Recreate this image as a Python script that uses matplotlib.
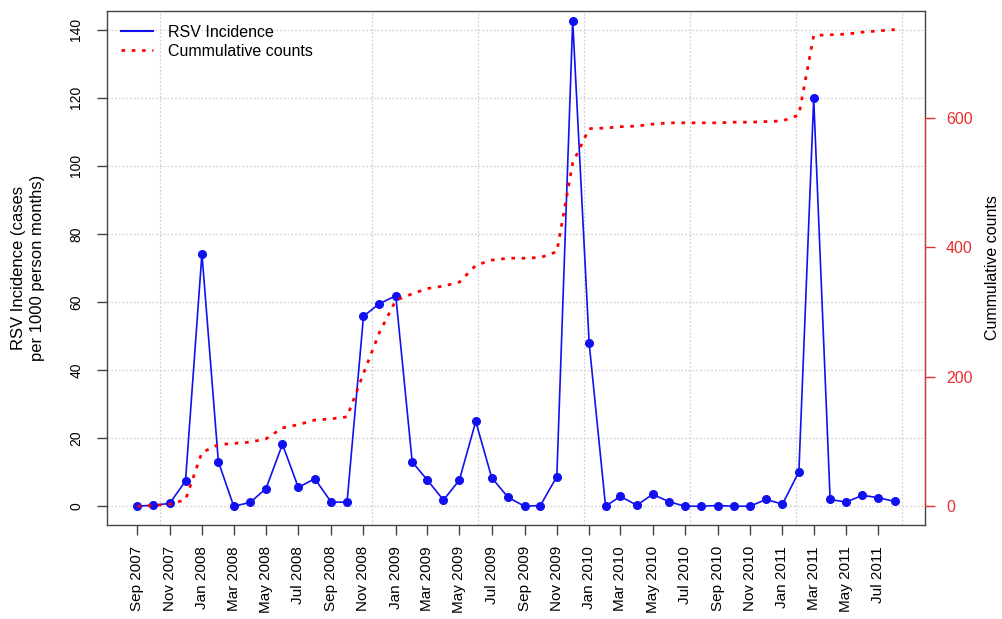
import numpy as np
import pandas as pd
import matplotlib
matplotlib.use('Agg')
import matplotlib.pyplot as plt
import matplotlib.dates as mdates
from matplotlib.lines import Line2D
from matplotlib.ticker import FixedLocator

plt.rcParams['font.family'] = ['Liberation Sans', 'DejaVu Sans']

# Monthly data, Sep 2007 - Aug 2011
months = pd.date_range('2007-09-01', periods=48, freq='MS')
incidence = [0.0, 0.3, 0.8, 7.4, 74.2, 13.1, 0.0, 1.1, 5.2, 18.2, 5.5, 8.1,
             1.2, 1.2, 55.8, 59.5, 61.8, 13.0, 7.8, 1.8, 7.7, 24.9, 8.4, 2.6,
             0.0, 0.2, 8.7, 142.6, 48.0, 0.0, 2.9, 0.3, 3.5, 1.3, 0.0, 0.0,
             0.2, 0.0, 0.0, 2.0, 0.6, 10.1, 119.8, 2.0, 1.2, 3.2, 2.5, 1.4]
cumulative = [0, 1, 3, 10, 83, 95, 97, 99, 104, 121, 126, 133,
              135, 138, 205, 268, 318, 328, 336, 340, 346, 372, 380, 383,
              383, 384, 393, 530, 583, 584, 586, 587, 590, 592, 592, 592,
              592, 593, 593, 594, 595, 604, 727, 728, 729, 732, 734, 736]
left_ticks = [0, 20, 40, 60, 80, 100, 120, 140]
right_ticks = [0, 200, 400, 600]
tick_months = months[::2]

fig = plt.figure(figsize=(10.02, 6.19), dpi=100)
ax = fig.add_axes([0.1068, 0.1514, 0.9232 - 0.1068, 0.983 - 0.1514])
ax2 = ax.twinx()

x = mdates.date2num(months)
span = x[-1] - x[0]
ax.set_xlim(x[0] - 0.04 * span, x[-1] + 0.04 * span)
ax.set_ylim(-0.04 * 140, 140 * 1.04)
cmax = max(cumulative)
ax2.set_ylim(-0.04 * cmax, 1.04 * cmax)

# grid: dotted light gray, vertical lines every 200 days
ax.set_yticks(left_ticks)
ax.yaxis.grid(True, color='#d0d0d0', linestyle=(0, (1.5, 1.5)), linewidth=0.9)
ax.xaxis.set_minor_locator(FixedLocator(np.arange(13800, 15201, 200)))
ax.xaxis.grid(True, which='minor', color='#d0d0d0', linestyle=(0, (1.5, 1.5)), linewidth=0.9)
ax.set_axisbelow(True)

ax.plot(x, incidence, color='#1010f0', linewidth=1.2, marker='o',
        markersize=5.5, zorder=3)
ax2.plot(x, cumulative, color='red', linewidth=2.0,
         linestyle=(0, (1.3, 2.4)), zorder=3)

ax.set_xticks(mdates.date2num(tick_months))
ax.set_xticklabels([d.strftime('%b %Y') for d in tick_months], rotation=90)
ax.tick_params(axis='x', which='major', length=7, width=1, pad=8,
               labelsize=11, color='#444444')
ax.tick_params(axis='x', which='minor', length=0)
ax.tick_params(axis='y', length=7, width=1, pad=10, labelsize=10,
               labelrotation=90, color='#444444')
for lab in ax.get_yticklabels():
    lab.set_va('center')

ax2.set_yticks(right_ticks)
ax2.tick_params(axis='y', length=7, width=1, pad=8, labelsize=11.5,
                colors='#e83030')
for s in ['left', 'top', 'bottom']:
    ax2.spines[s].set_visible(False)
ax2.spines['right'].set_color('#e83030')
ax2.spines['right'].set_bounds(0, 600)
for s in ax.spines.values():
    s.set_color('#444444')
    s.set_linewidth(1.0)

fig.text(0.028, 0.567, 'RSV Incidence (cases\nper 1000 person months)',
         fontsize=12, rotation=90, ha='center', va='center', linespacing=1.3)
fig.text(0.991, 0.567, 'Cummulative counts', fontsize=11.5, rotation=90,
         ha='center', va='center')

handles = [Line2D([], [], color='#1010f0', linewidth=1.5),
           Line2D([], [], color='red', linewidth=2.0, linestyle=(0, (1.3, 2.4)))]
ax.legend(handles, ['RSV Incidence', 'Cummulative counts'], loc='upper left',
          bbox_to_anchor=(0.0, 1.0), frameon=False, fontsize=11.5,
          handlelength=2.0, handletextpad=0.9, labelspacing=0.25,
          borderaxespad=0.5)

fig.savefig('out.png', dpi=100)
